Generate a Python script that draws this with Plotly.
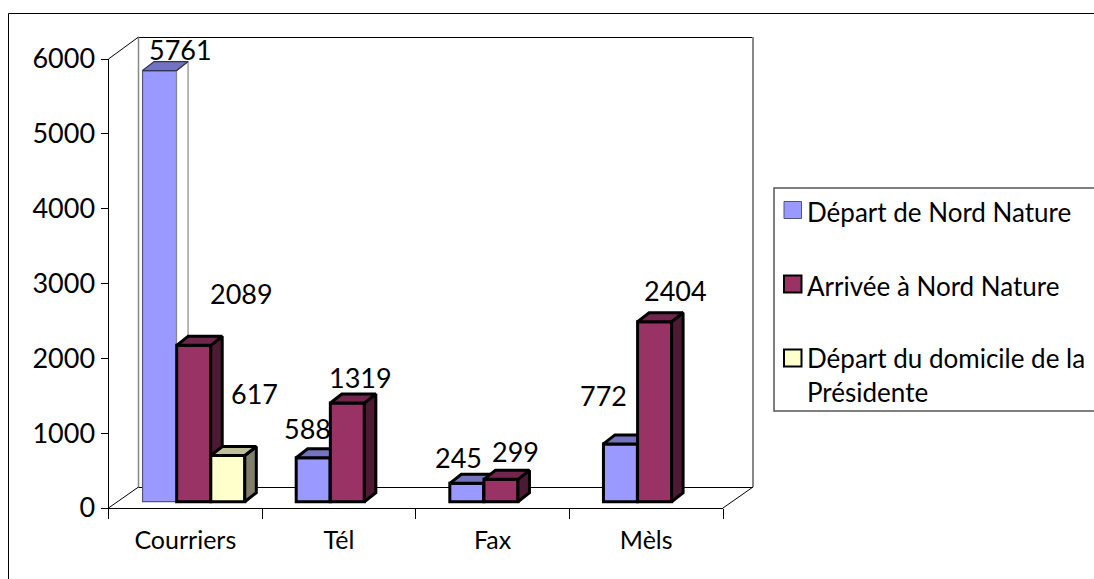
import plotly.graph_objects as go

categories = ["Courriers", "Tél", "Fax", "Mèls"]
series_names = ["Départ de Nord Nature", "Arrivée à Nord Nature", "Départ du domicile de la<br>Présidente"]
depart_nord = [5761, 588, 245, 772]
arrivee_nord = [2089, 1319, 299, 2404]
depart_domicile = [617, None, None, None]
y_ticks = [0, 1000, 2000, 3000, 4000, 5000, 6000]

all_values = [depart_nord, arrivee_nord, depart_domicile]
front_colors = ["#9999FF", "#993366", "#FFFFCC"]
top_colors = ["#7373BF", "#73264D", "#BFBF99"]
side_colors = ["#4D4D80", "#4D1A33", "#80806A"]
label_shift = [
    [(21, 21), (-6, 29), (-8, 26), (-17, 48)],
    [(48, 52), (13, 25), (15, 28), (21, 31)],
    [(27, 62), None, None, None],
]

W, H = 1094, 579
FONT = "Lato"
X0, X1, Y0, Y1 = 108.5, 723, 508, 59
CAT_PX = (X1 - X0) / len(categories)
VAL_PX = (Y0 - Y1) / 6000
BAR_W = 34 / CAT_PX
OFFSETS = [-42.75 / CAT_PX, -8.6 / CAT_PX, 25.5 / CAT_PX]
BASE = 6.3 / VAL_PX
DX = 11.5 / CAT_PX
DY = 9 / VAL_PX
LINE = 3


def px(x):
    return x / W


def py(y):
    return 1 - y / H


fig = go.Figure()
layout_axes = {}
for s, (vals, name) in enumerate(zip(all_values, series_names)):
    suffix = "" if s == 0 else str(s + 1)
    xa, ya = "x" + suffix, "y" + suffix
    if s:
        layout_axes["xaxis" + suffix] = dict(overlaying="x", visible=False, range=[-0.5, 3.5],
                                             domain=[px(X0), px(X1)], anchor=ya)
        layout_axes["yaxis" + suffix] = dict(overlaying="y", visible=False, range=[0, 6000],
                                             domain=[py(Y0), py(Y1)], anchor=xa)
    thin = [s == 0 and i == 0 for i in range(len(vals))]
    fig.add_trace(go.Bar(
        x=list(range(len(vals))), y=vals, base=BASE, width=BAR_W, offset=OFFSETS[s], name=name.replace("<br>", " "),
        xaxis=xa, yaxis=ya, showlegend=False,
        marker=dict(color=front_colors[s],
                    line=dict(color=["#55557A" if t else "#000000" for t in thin],
                              width=[1.2 if t else LINE for t in thin])),
    ))
    for i, v in enumerate(vals):
        if v is None:
            continue
        left = i + OFFSETS[s]
        right = left + BAR_W
        top = v + BASE
        line = dict(color="#333355", width=1.2) if thin[i] else dict(color="#000000", width=LINE)
        side_line = dict(color="#888888", width=1.2) if thin[i] else line
        side_fill = "#FFFFFF" if thin[i] else side_colors[s]
        fig.add_trace(go.Scatter(
            x=[right, right + DX, right + DX, right, right], y=[BASE, BASE + DY, top + DY, top, BASE],
            mode="lines", fill="toself", fillcolor=side_fill, line=side_line, xaxis=xa, yaxis=ya,
            showlegend=False, hoverinfo="skip"))
        fig.add_trace(go.Scatter(
            x=[left, left + DX, right + DX, right, left], y=[top, top + DY, top + DY, top, top],
            mode="lines", fill="toself", fillcolor=top_colors[s], line=line, xaxis=xa, yaxis=ya,
            showlegend=False, hoverinfo="skip"))

annotations = []
for s, vals in enumerate(all_values):
    for i, v in enumerate(vals):
        if v is None:
            continue
        dx, dy = label_shift[s][i]
        annotations.append(dict(
            x=i + OFFSETS[s] + BAR_W / 2, y=v + BASE, xref="x", yref="y", text=str(v), showarrow=False,
            xshift=dx, yshift=dy, xanchor="center", yanchor="middle",
            font=dict(family=FONT, size=27, color="#000000")))

shapes = []


def seg(x0, y0, x1, y1, color="#000000", width=1):
    shapes.append(dict(type="line", xref="paper", yref="paper", x0=px(x0), y0=py(y0), x1=px(x1), y1=py(y1),
                       line=dict(color=color, width=width), layer="below"))


# chart frame
seg(8.5, 13.5, 1094, 13.5)
seg(8.5, 13.5, 8.5, 579)
# back wall and floor
BX, BY = 30, 21
seg(X0 + BX, Y1 - 21.5, X1 + BX, Y1 - 21.5)
seg(X0 + BX, Y1 - 22, X0 + BX, Y0 - BY, "#888888", 1.5)
seg(X1 + BX, Y1 - 22, X1 + BX, Y0 - BY, "#888888", 2)
seg(X0 + BX, Y0 - BY + 0.5, X1 + BX, Y0 - BY + 0.5)
seg(X0, Y0, X0 + BX, Y0 - BY)
seg(X1, Y0, X1 + BX, Y0 - BY)
seg(X0, Y1, X0 + BX, Y1 - 22)

# legend
shapes.append(dict(type="rect", xref="paper", yref="paper", x0=px(774), x1=px(1096), y0=py(411), y1=py(188),
                   line=dict(color="#555555", width=1.5), fillcolor="#FFFFFF"))
legend_rows = [(210, 212), (284, 286), (358, 375)]
for s, (ys, yt) in enumerate(legend_rows):
    shapes.append(dict(type="rect", xref="paper", yref="paper", x0=px(784), x1=px(801.5), y0=py(ys + 8.5),
                       y1=py(ys - 8.5), fillcolor=front_colors[s],
                       line=dict(color="#55557A" if s == 0 else "#000000", width=1 if s == 0 else 2)))
    annotations.append(dict(x=px(805), y=py(yt), xref="paper", yref="paper", text=series_names[s], showarrow=False,
                            xanchor="left", yanchor="middle", align="left",
                            font=dict(family=FONT, size=26, color="#000000")))

fig.update_layout(
    width=W, height=H, margin=dict(l=0, r=0, t=0, b=0, pad=0, autoexpand=False), autosize=False,
    paper_bgcolor="#FFFFFF", plot_bgcolor="rgba(0,0,0,0)", showlegend=False, barmode="overlay",
    font=dict(family=FONT, color="#000000"),
    xaxis=dict(domain=[px(X0), px(X1)], range=[-0.5, 3.5], tickmode="array", tickvals=list(range(len(categories))),
               ticktext=categories, ticks="", showgrid=False, zeroline=False, showline=True, linecolor="#000000",
               linewidth=1, tickfont=dict(family=FONT, size=25), ticklabelstandoff=10,
               minor=dict(tickmode="array", tickvals=[i - 0.5 for i in range(len(categories) + 1)], ticks="outside",
                          ticklen=10, tickcolor="#000000", tickwidth=1, showgrid=False)),
    yaxis=dict(domain=[py(Y0), py(Y1)], range=[0, 6000], tickmode="array", tickvals=y_ticks, ticks="outside",
               ticklen=7, tickcolor="#000000", tickwidth=1, showgrid=False, zeroline=False, showline=True,
               linecolor="#000000", linewidth=1, tickfont=dict(family=FONT, size=27)),
    shapes=shapes, annotations=annotations, **layout_axes,
)
fig.write_html("out.html", post_script="document.body.style.margin='0';document.body.style.overflow='hidden';",
               config=dict(displayModeBar=False))
